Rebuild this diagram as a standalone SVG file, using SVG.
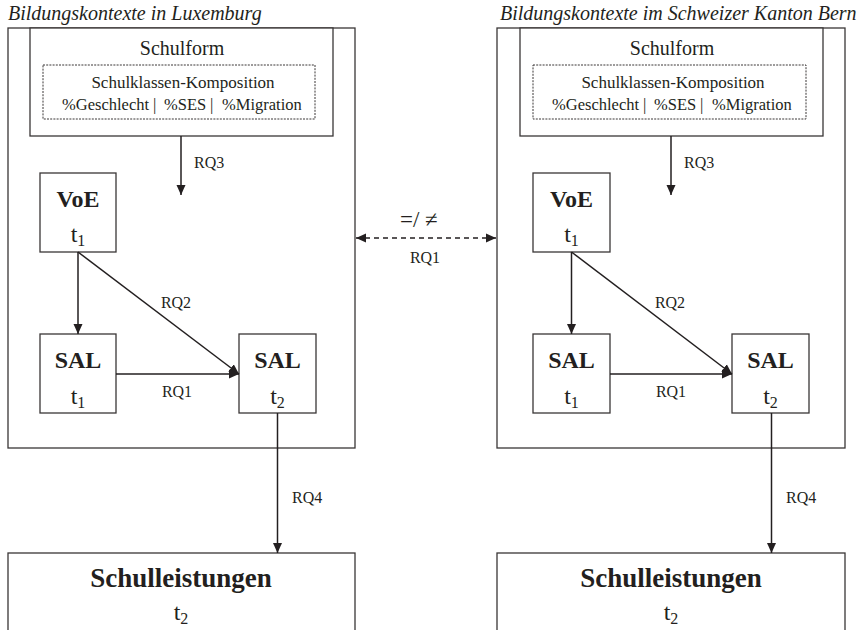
<svg xmlns="http://www.w3.org/2000/svg" width="862" height="630" viewBox="0 0 862 630">
<style>
text{font-family:"Liberation Serif","Times New Roman",serif;fill:#231f20}
.title{font-size:20px;font-style:italic}
.box{fill:#fff;stroke:#3a3636;stroke-width:1.3}
.dbox{fill:none;stroke:#3a3636;stroke-width:1;stroke-dasharray:2 1.2}
.sf{font-size:20px;text-anchor:middle}
.sk{font-size:17px}
.sk2{font-size:16.5px}
.rq{font-size:16px}
.bold{font-size:24px;font-weight:bold;text-anchor:middle}
.t{font-size:24px;text-anchor:middle}
.sub{font-size:16px}
.big{font-size:27px;font-weight:bold;text-anchor:middle}
.arr{fill:none;stroke:#231f20;stroke-width:1.5;marker-end:url(#ah)}
.dash{fill:none;stroke:#231f20;stroke-width:1.5;stroke-dasharray:5 4;marker-start:url(#ahs);marker-end:url(#ah)}
</style>
<defs>
<marker id="ah" markerUnits="userSpaceOnUse" markerWidth="12" markerHeight="10" refX="10" refY="5" orient="auto"><path d="M0,0.5 L10,5 L0,9.5 Z" fill="#231f20"/></marker>
<marker id="ahs" markerUnits="userSpaceOnUse" markerWidth="12" markerHeight="10" refX="0" refY="5" orient="auto"><path d="M10,0.5 L0,5 L10,9.5 Z" fill="#231f20"/></marker>
</defs>
<rect width="862" height="630" fill="#fff"/>

<!-- Left context -->
<g id="ctx-lux">
<text class="title" x="8" y="20">Bildungskontexte in Luxemburg</text>
<rect class="box" x="8" y="28" width="347" height="420"/>
</g>
<g id="schulform-lux">
<rect class="box" x="30" y="28" width="303" height="108"/>
<text class="sf" x="182" y="55">Schulform</text>
</g>
<g id="komposition-lux">
<rect class="dbox" x="43" y="65" width="272" height="54"/>
<text class="sk" x="183" y="88" text-anchor="middle">Schulklassen-Komposition</text>
<text class="sk2" y="110"><tspan x="62">%Geschlecht</tspan><tspan x="153">|</tspan><tspan x="164">%SES</tspan><tspan x="210">|</tspan><tspan x="222">%Migration</tspan></text>
</g>
<g id="voe-lux">
<rect class="box" x="40" y="173" width="76" height="79"/>
<text class="bold" x="78" y="207">VoE</text>
<text class="t" x="78" y="242">t<tspan class="sub" dy="4">1</tspan></text>
</g>
<g id="sal1-lux">
<rect class="box" x="40" y="334" width="76" height="79"/>
<text class="bold" x="78" y="368">SAL</text>
<text class="t" x="78" y="404">t<tspan class="sub" dy="4">1</tspan></text>
</g>
<g id="sal2-lux">
<rect class="box" x="239" y="334" width="77" height="79"/>
<text class="bold" x="277.5" y="368">SAL</text>
<text class="t" x="277.5" y="404">t<tspan class="sub" dy="4">2</tspan></text>
</g>
<g id="leistung-lux">
<rect class="box" x="8" y="553" width="347" height="90"/>
<text class="big" x="181" y="587">Schulleistungen</text>
<text class="t" x="181" y="620">t<tspan class="sub" dy="4">2</tspan></text>
</g>

<!-- Right context -->
<g id="ctx-bern">
<text class="title" x="500" y="20">Bildungskontexte im Schweizer Kanton Bern</text>
<rect class="box" x="497" y="28" width="348" height="420"/>
</g>
<g id="schulform-bern">
<rect class="box" x="520" y="28" width="303" height="108"/>
<text class="sf" x="672" y="55">Schulform</text>
</g>
<g id="komposition-bern">
<rect class="dbox" x="533" y="65" width="273" height="54"/>
<text class="sk" x="673" y="88" text-anchor="middle">Schulklassen-Komposition</text>
<text class="sk2" y="110"><tspan x="552">%Geschlecht</tspan><tspan x="643">|</tspan><tspan x="654">%SES</tspan><tspan x="700">|</tspan><tspan x="712">%Migration</tspan></text>
</g>
<g id="voe-bern">
<rect class="box" x="533" y="173" width="77" height="79"/>
<text class="bold" x="571.5" y="207">VoE</text>
<text class="t" x="571.5" y="242">t<tspan class="sub" dy="4">1</tspan></text>
</g>
<g id="sal1-bern">
<rect class="box" x="533" y="334" width="77" height="79"/>
<text class="bold" x="571.5" y="368">SAL</text>
<text class="t" x="571.5" y="404">t<tspan class="sub" dy="4">1</tspan></text>
</g>
<g id="sal2-bern">
<rect class="box" x="732" y="334" width="77" height="79"/>
<text class="bold" x="770.5" y="368">SAL</text>
<text class="t" x="770.5" y="404">t<tspan class="sub" dy="4">2</tspan></text>
</g>
<g id="leistung-bern">
<rect class="box" x="497" y="553" width="348" height="90"/>
<text class="big" x="671" y="587">Schulleistungen</text>
<text class="t" x="671" y="620">t<tspan class="sub" dy="4">2</tspan></text>
</g>

<!-- Connectors -->
<g id="connectors">
<path class="arr" d="M181,136 V195"/>
<text class="rq" x="194" y="168">RQ3</text>
<path class="arr" d="M78,252 V334"/>
<path class="arr" d="M78,252 L239,374"/>
<text class="rq" x="176" y="308" text-anchor="middle">RQ2</text>
<path class="arr" d="M116,374 H239"/>
<text class="rq" x="177" y="397" text-anchor="middle">RQ1</text>
<path class="arr" d="M277.5,413 V553"/>
<text class="rq" x="292" y="503">RQ4</text>

<path class="arr" d="M671,136 V195"/>
<text class="rq" x="684" y="168">RQ3</text>
<path class="arr" d="M571.5,252 V334"/>
<path class="arr" d="M571.5,252 L732,374"/>
<text class="rq" x="670" y="308" text-anchor="middle">RQ2</text>
<path class="arr" d="M610,374 H732"/>
<text class="rq" x="671" y="397" text-anchor="middle">RQ1</text>
<path class="arr" d="M771.5,413 V553"/>
<text class="rq" x="786" y="503">RQ4</text>

<path class="dash" d="M356,238 H496"/>
<text x="400" y="227" style="font-size:23px">=/ ≠</text>
<text class="rq" x="425" y="263" text-anchor="middle">RQ1</text>
</g>
</svg>
